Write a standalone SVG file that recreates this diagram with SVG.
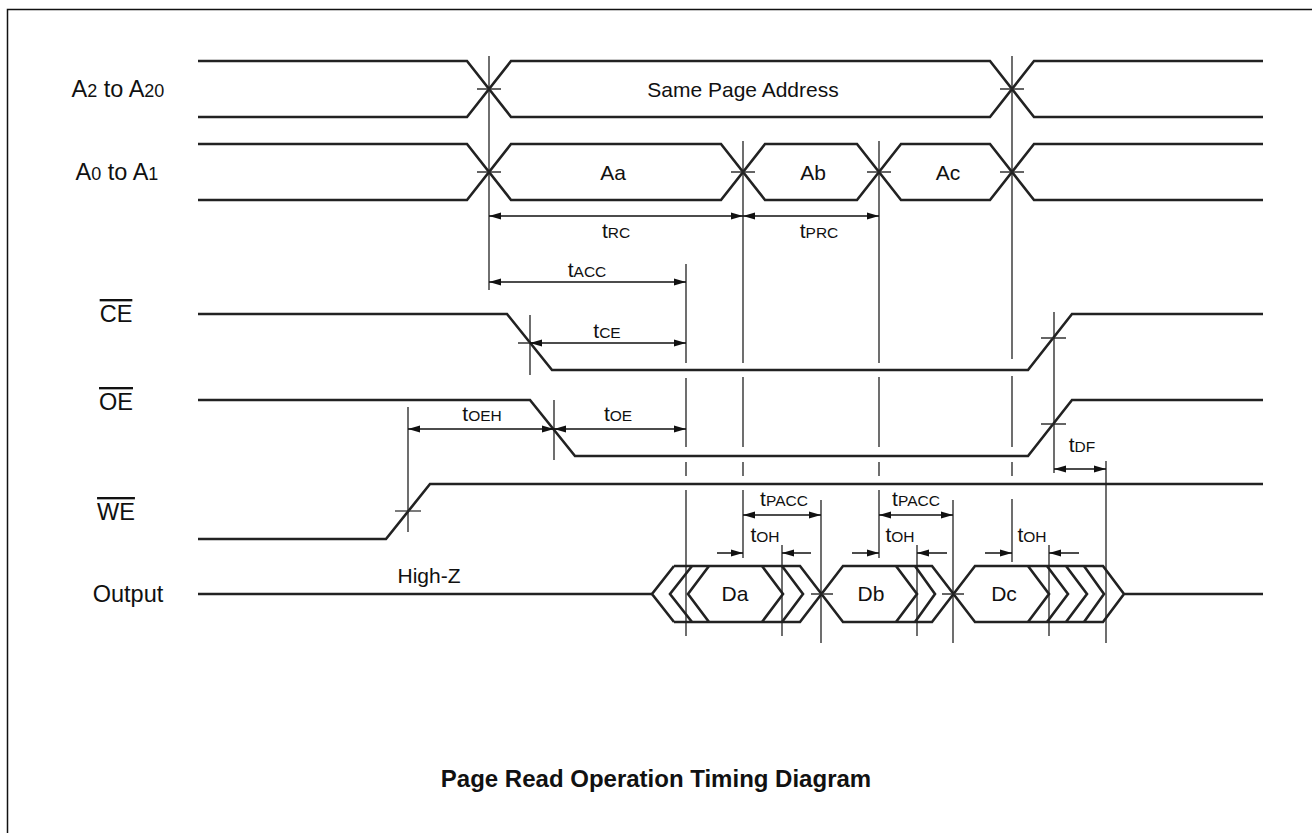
<svg xmlns="http://www.w3.org/2000/svg" width="1312" height="833" viewBox="0 0 1312 833">
<defs>
<style>
.sig{fill:none;stroke:#222;stroke-width:2.6;stroke-linejoin:miter}
.v{fill:none;stroke:#222;stroke-width:1.3}
.tick{fill:none;stroke:#333;stroke-width:1.3}
.arr{fill:none;stroke:#111;stroke-width:1.5;marker-start:url(#ah);marker-end:url(#ah)}
.arr1{fill:none;stroke:#111;stroke-width:1.5;marker-end:url(#ah)}
text{font-family:"Liberation Sans",Arial,sans-serif;fill:#111}
.lbl{font-size:23.5px;text-anchor:middle}
.ov{text-decoration:overline}
.bus{font-size:21px;text-anchor:middle}
.t{font-size:21px;text-anchor:middle}
.s{font-size:15.5px}
.sub{font-size:18px}
.title{font-size:24px;font-weight:bold;text-anchor:middle}
</style>
<marker id="ah" markerUnits="userSpaceOnUse" markerWidth="12" markerHeight="8" refX="12" refY="4" orient="auto-start-reverse" viewBox="0 0 12 8">
<path d="M0,0.5 L12,4 L0,7.5 z" fill="#111"/>
</marker>
</defs>
<rect width="1312" height="833" fill="#fff"/>
<path d="M7.5,833 V9.5 H1312" fill="none" stroke="#111" stroke-width="1.5"/>

<g id="labels">
<text class="lbl" x="118" y="97">A<tspan class="sub">2</tspan> to A<tspan class="sub">20</tspan></text>
<text class="lbl" x="117" y="180">A<tspan class="sub">0</tspan> to A<tspan class="sub">1</tspan></text>
<text class="lbl ov" x="116" y="322">CE</text>
<text class="lbl ov" x="116" y="410">OE</text>
<text class="lbl ov" x="116" y="520">WE</text>
<text class="lbl" x="128" y="602">Output</text>
</g>

<g id="sig-a2-a20">
<path class="sig" d="M198,61 H467 L511,117 H990 L1034,61 H1263"/>
<path class="sig" d="M198,117 H467 L511,61 H990 L1034,117 H1263"/>
<path class="tick" d="M477,89 H501 M1000,89 H1024"/>
<text class="bus" x="743" y="97">Same Page Address</text>
</g>

<g id="sig-a0-a1">
<path class="sig" d="M198,144 H467 L511,200 H721 L765,144 H857 L901,200 H990 L1034,144 H1263"/>
<path class="sig" d="M198,200 H467 L511,144 H721 L765,200 H857 L901,144 H990 L1034,200 H1263"/>
<path class="tick" d="M477,172 H501 M731,172 H755 M867,172 H891 M1000,172 H1024"/>
<text class="bus" x="613" y="180">Aa</text>
<text class="bus" x="813" y="180">Ab</text>
<text class="bus" x="948" y="180">Ac</text>
</g>

<g id="sig-ce">
<path class="sig" d="M198,314 H507 L552,370 H1028 L1072,314 H1263"/>
<path class="tick" d="M518,343 H542 M1041,338 H1066"/>
</g>

<g id="sig-oe">
<path class="sig" d="M198,400 H530 L575,456 H1028 L1072,400 H1263"/>
<path class="tick" d="M542,429 H566 M1041,424 H1066"/>
</g>

<g id="sig-we">
<path class="sig" d="M198,539 H386 L430,484 H1263"/>
<path class="tick" d="M395,511 H421"/>
</g>

<g id="sig-output">
<path class="sig" d="M198,594 H652"/>
<text class="bus" x="429" y="583">High-Z</text>
<path class="sig" d="M674,566 L652,594 L674,622 M674,566 H800 L843,622 H932 L975,566 H1103 L1124,594 L1103,622 H975 L932,566 H843 L800,622 H674 M1124,594 H1263"/>
<path class="sig" d="M692,566 L670,594 L692,622 M709,566 L688,594 L709,622"/>
<path class="sig" d="M762,566 L783,594 L762,622 M782,566 L803,594 L782,622"/>
<path class="sig" d="M896,566 L917,594 L896,622 M915,566 L935,594 L915,622"/>
<path class="sig" d="M1028,566 L1049,594 L1028,622 M1047,566 L1068,594 L1047,622 M1066,566 L1087,594 L1066,622 M1084,566 L1104,594 L1084,622"/>
<path class="tick" d="M811,594 H833 M942,594 H964"/>
<text class="bus" x="735" y="601">Da</text>
<text class="bus" x="871" y="601">Db</text>
<text class="bus" x="1004" y="601">Dc</text>
</g>

<g id="connectors">
<path class="v" d="M489,56 V290"/>
<path class="v" d="M1012,56 V359 M1012,376 V447 M1012,462 V476 M1012,499 V562"/>
<path class="v" d="M743,141 V363 M743,377 V447 M743,462 V476 M743,490 V558"/>
<path class="v" d="M879,141 V363 M879,377 V447 M879,462 V476 M879,490 V558"/>
<path class="v" d="M686,264 V363 M686,378 V447 M686,462 V476 M686,490 V636"/>
<path class="v" d="M530,315 V375 M554,400 V460 M408,407 V532 M1054,312 V473 M1106,461 V643"/>
<path class="v" d="M821,500 V643 M953,500 V643 M782,545 V636 M917,545 V636 M1049,545 V636"/>

<path class="arr" d="M489,216 H743"/>
<path class="arr" d="M743,216 H879"/>
<path class="arr" d="M489,282 H686"/>
<path class="arr" d="M530,343 H686"/>
<path class="arr" d="M408,429 H554"/>
<path class="arr" d="M554,429 H686"/>
<path class="arr" d="M1054,469 H1106"/>
<path class="arr" d="M743,515 H821"/>
<path class="arr" d="M879,515 H953"/>
<path class="arr1" d="M717,553 H743"/>
<path class="arr1" d="M811,553 H782"/>
<path class="arr1" d="M852,553 H879"/>
<path class="arr1" d="M947,553 H917"/>
<path class="arr1" d="M985,553 H1012"/>
<path class="arr1" d="M1079,553 H1049"/>

<text class="t" x="616" y="238">t<tspan class="s">RC</tspan></text>
<text class="t" x="819" y="238">t<tspan class="s">PRC</tspan></text>
<text class="t" x="587" y="277">t<tspan class="s">ACC</tspan></text>
<text class="t" x="607" y="338">t<tspan class="s">CE</tspan></text>
<text class="t" x="482" y="421">t<tspan class="s">OEH</tspan></text>
<text class="t" x="618" y="421">t<tspan class="s">OE</tspan></text>
<text class="t" x="1082" y="452">t<tspan class="s">DF</tspan></text>
<text class="t" x="784" y="506">t<tspan class="s">PACC</tspan></text>
<text class="t" x="916" y="506">t<tspan class="s">PACC</tspan></text>
<text class="t" x="765" y="542">t<tspan class="s">OH</tspan></text>
<text class="t" x="900" y="542">t<tspan class="s">OH</tspan></text>
<text class="t" x="1032" y="542">t<tspan class="s">OH</tspan></text>
</g>

<text class="title" x="656" y="787">Page Read Operation Timing Diagram</text>
</svg>
